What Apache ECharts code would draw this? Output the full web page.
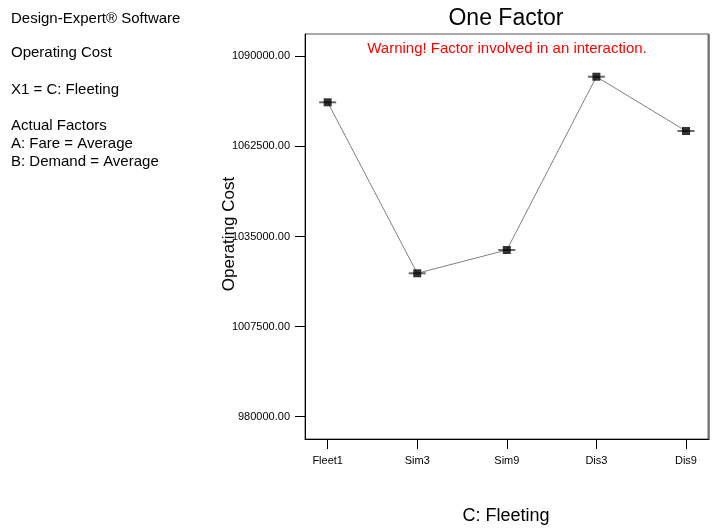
<!DOCTYPE html>
<html><head><meta charset="utf-8">
<script src="https://cdn.jsdelivr.net/npm/echarts@6/dist/echarts.min.js"></script>
<style>html,body{margin:0;padding:0;background:#fff}#c{width:715px;height:528px}</style>
</head><body><div id="c"></div>
<script>
var categories = ['Fleet1', 'Sim3', 'Sim9', 'Dis3', 'Dis9'];
var operatingCost = [1075960, 1023770, 1030880, 1083770, 1067200];
var yTicks = [980000, 1007500, 1035000, 1062500, 1090000];
var infoLines = ['Design-Expert® Software', 'Operating Cost', 'X1 = C: Fleeting', 'Actual Factors', 'A: Fare = Average', 'B: Demand = Average'];
var infoY = [19, 53, 90, 126, 144, 162];

var FONT = '"Liberation Sans", Arial, sans-serif';
var pts = operatingCost.map(function (v, i) { return [i, v]; });
var graphics = infoLines.map(function (t, i) {
  return {type: 'text', x: 11, y: infoY[i], style: {text: t, font: '15px ' + FONT, fill: '#000', verticalAlign: 'middle'}};
});
graphics.push(
  {type: 'text', x: 506, y: 19, style: {text: 'One Factor', font: '23px ' + FONT, fill: '#000', align: 'center', verticalAlign: 'middle'}},
  {type: 'text', x: 507, y: 49, style: {text: 'Warning! Factor involved in an interaction.', font: '15px ' + FONT, fill: '#ff0000', align: 'center', verticalAlign: 'middle'}},
  {type: 'text', x: 506, y: 516, style: {text: 'C: Fleeting', font: '18px ' + FONT, fill: '#000', align: 'center', verticalAlign: 'middle'}},
  {type: 'text', x: 229, y: 234, rotation: Math.PI / 2, style: {text: 'Operating Cost', font: '17px ' + FONT, fill: '#000', align: 'center', verticalAlign: 'middle'}},
  {type: 'line', shape: {x1: 708.5, y1: 34, x2: 708.5, y2: 439}, style: {stroke: '#707070', lineWidth: 2}, z: 10}
);

var chart = echarts.init(document.getElementById('c'), null, {renderer: 'canvas'});
chart.setOption({
  animation: false,
  backgroundColor: '#fff',
  graphic: graphics,
  grid: {left: 305, top: 34, width: 404, height: 405, show: true, borderColor: '#555', borderWidth: 1, backgroundColor: 'transparent'},
  xAxis: {
    type: 'value', min: -0.253, max: 4.257,
    splitLine: {show: false},
    axisLine: {show: true, onZero: false, lineStyle: {color: '#000', width: 1}},
    axisTick: {show: true, customValues: [0, 1, 2, 3, 4], length: 10, lineStyle: {color: '#000'}},
    axisLabel: {customValues: [0, 1, 2, 3, 4], margin: 16, fontFamily: FONT, fontSize: 11, color: '#000',
      formatter: function (v) { return categories[Math.round(v)] || ''; }}
  },
  yAxis: {
    type: 'value', min: 973194, max: 1096806,
    splitLine: {show: false},
    axisLine: {show: true, onZero: false, lineStyle: {color: '#000', width: 1}},
    axisTick: {show: true, customValues: yTicks, length: 10, lineStyle: {color: '#000'}},
    axisLabel: {customValues: yTicks, margin: 15, fontFamily: FONT, fontSize: 11, color: '#000',
      formatter: function (v) { return v.toFixed(2); }}
  },
  series: [
    {type: 'line', data: pts, symbol: 'none', lineStyle: {color: '#808080', width: 1}, z: 2},
    {type: 'scatter', data: pts, symbol: 'rect', symbolSize: [17, 2], itemStyle: {color: '#444'}, z: 3},
    {type: 'scatter', data: pts, symbol: 'rect', symbolSize: 8, itemStyle: {color: '#000'}, z: 4}
  ]
});
</script></body></html>
